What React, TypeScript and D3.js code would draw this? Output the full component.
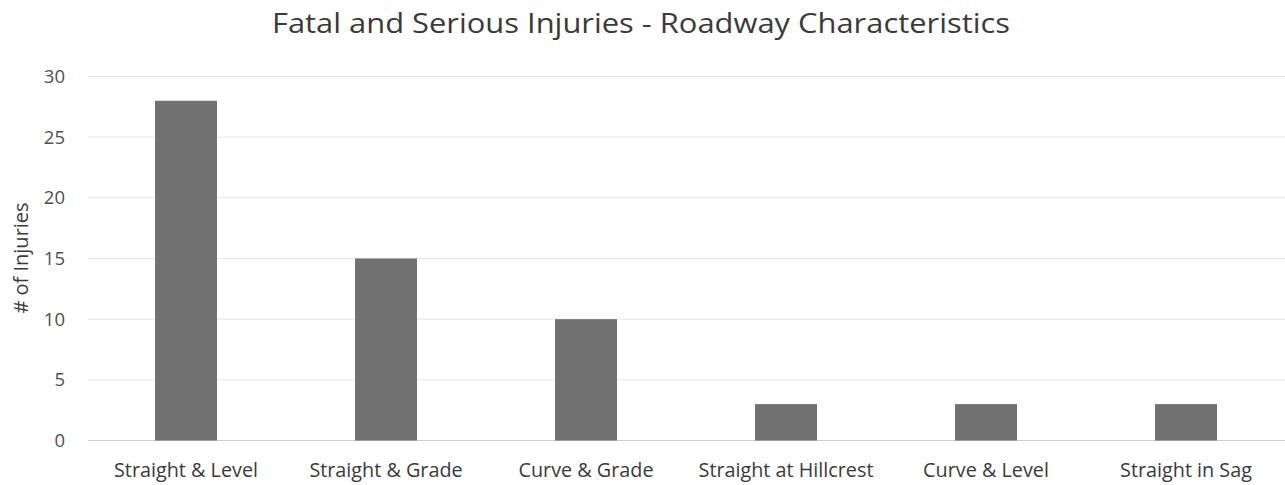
import React from "react";
import * as d3 from "d3";

const categories = ["Straight & Level", "Straight & Grade", "Curve & Grade", "Straight at Hillcrest", "Curve & Level", "Straight in Sag"];
const values = [28, 15, 10, 3, 3, 3];
const yTicks = [0, 5, 10, 15, 20, 25, 30];
const title = "Fatal and Serious Injuries - Roadway Characteristics";
const yTitle = "# of Injuries";

export default function App() {
  const W = 1285, H = 485;
  const x = d3.scaleBand<string>().domain(categories).range([86, 1286]).paddingInner(0.69).paddingOuter(0.345);
  const y = d3.scaleLinear().domain([0, 30]).range([440.5, 76.5]);
  const font = "'Open Sans', sans-serif";
  return (
    <svg width={W} height={H} style={{ position: "absolute", left: 0, top: 0, background: "#fff" }} fontFamily={font}>
      <text x={641} y={33} textAnchor="middle" fontSize={28} fill="#3a3a3a" textLength={738} lengthAdjust="spacingAndGlyphs">{title}</text>
      {yTicks.map(t => (
        <g key={t}>
          <line x1={88} x2={1285} y1={y(t)} y2={y(t)} stroke={t === 0 ? "#cfcfcf" : "#e6e6e6"} strokeWidth={1} />
          <text x={65} y={y(t)} dy="0.35em" textAnchor="end" fontSize={18.5} fill="#505050">{t}</text>
        </g>
      ))}
      {categories.map((c, i) => (
        <g key={c}>
          <rect x={x(c)} y={y(values[i])} width={x.bandwidth()} height={y(0) - y(values[i])} fill="#717171" />
          <text x={(x(c) as number) + x.bandwidth() / 2} y={477} textAnchor="middle" fontSize={19.8} fill="#3a3a3a">{c}</text>
        </g>
      ))}
      <text transform={`translate(28,${258}) rotate(-90)`} textAnchor="middle" fontSize={20} fill="#3a3a3a">{yTitle}</text>
    </svg>
  );
}
